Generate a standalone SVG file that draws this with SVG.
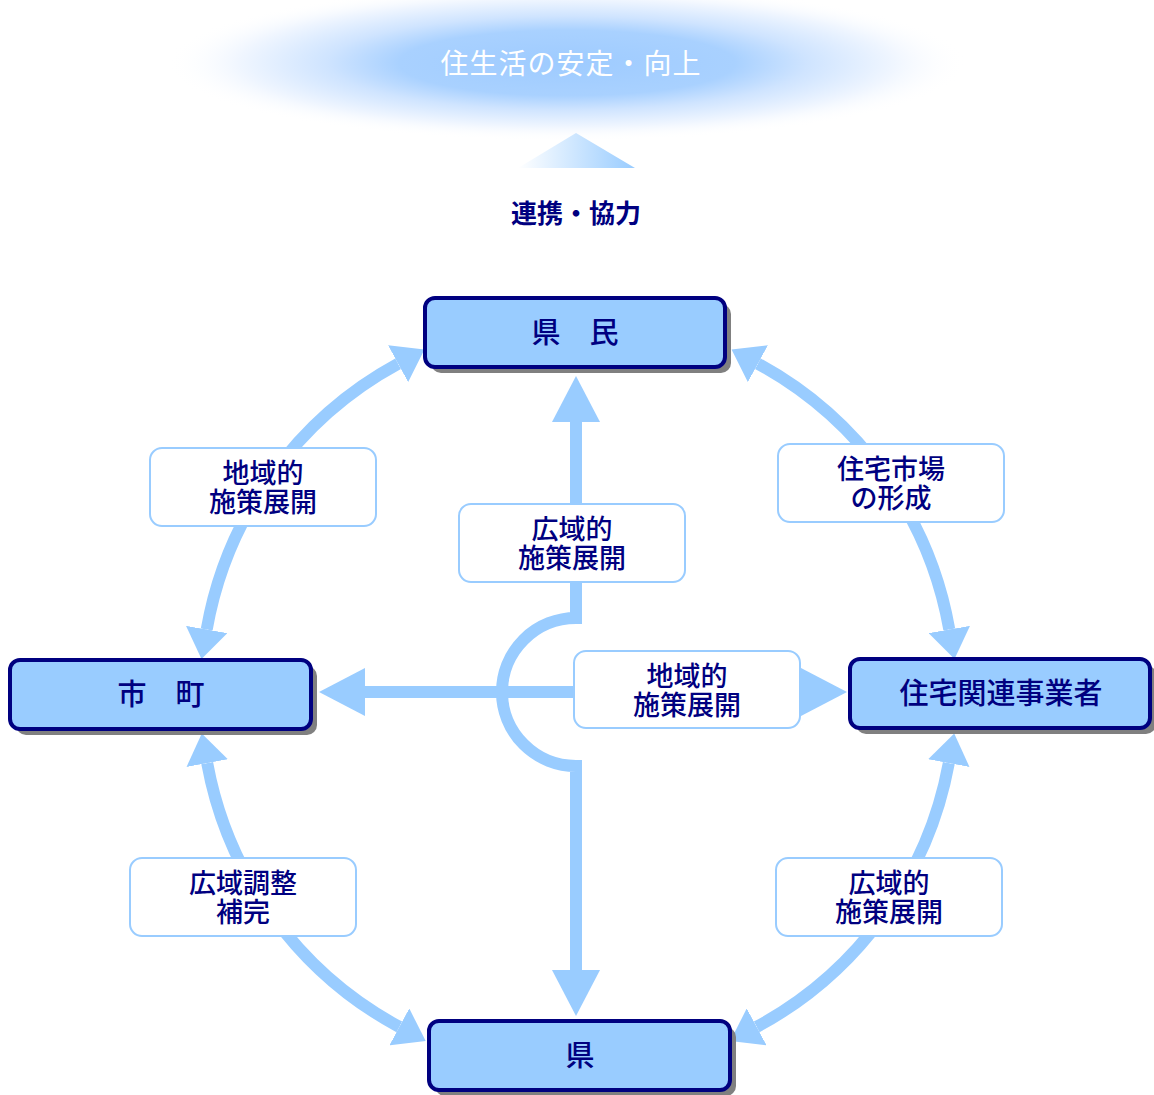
<svg xmlns="http://www.w3.org/2000/svg" width="1154" height="1095" viewBox="0 0 1154 1095">
<defs>
<radialGradient id="glow" cx="0.5" cy="0.5" r="0.5">
<stop offset="0" stop-color="#9ecbff"/>
<stop offset="0.42" stop-color="#a9d1ff"/>
<stop offset="0.6" stop-color="#cfe4ff"/>
<stop offset="0.82" stop-color="#f0f6ff"/>
<stop offset="1" stop-color="#ffffff" stop-opacity="0"/>
</radialGradient>
<linearGradient id="tri" x1="0" y1="0" x2="1" y2="0">
<stop offset="0" stop-color="#ffffff"/>
<stop offset="1" stop-color="#99ccff"/>
</linearGradient>
<marker id="arcHead" markerUnits="userSpaceOnUse" viewBox="0 0 30 42" markerWidth="30" markerHeight="42" refX="0" refY="21" orient="auto-start-reverse">
<path d="M0,0 L30,21 L0,42 z" fill="#99ccff"/>
</marker>
<marker id="lineHead" markerUnits="userSpaceOnUse" viewBox="0 0 46 48" markerWidth="46" markerHeight="48" refX="0" refY="24" orient="auto-start-reverse">
<path d="M0,0 L46,24 L0,48 z" fill="#99ccff"/>
</marker>
<style>
.conn{fill:none;stroke:#99ccff;stroke-width:12}
.arc{marker-start:url(#arcHead);marker-end:url(#arcHead)}
.shadow{fill:#808080}
.node{fill:#99ccff;stroke:#000080;stroke-width:4}
.ntext{font-family:'Noto Sans CJK JP','Noto Sans',sans-serif;font-size:29px;font-weight:500;fill:#000080;text-anchor:middle}
.lbox{fill:#ffffff;stroke:#99ccff;stroke-width:2}
.ltext{font-family:'Noto Sans CJK JP','Noto Sans',sans-serif;font-size:27px;font-weight:500;fill:#000080;text-anchor:middle}
</style>
</defs>
<rect width="1154" height="1095" fill="#ffffff"/>

<g id="goal">
<ellipse cx="567" cy="63" rx="400" ry="78" fill="url(#glow)"/>
<text x="571" y="74" font-family="'Noto Sans CJK JP','Noto Sans',sans-serif" font-size="28" letter-spacing="1" fill="#ffffff" text-anchor="middle">住生活の安定・向上</text>
</g>
<g id="rise">
<polygon points="518,168 576,133 635,168" fill="url(#tri)"/>
</g>
<g id="cooperation">
<text x="576" y="223" font-family="'Noto Sans CJK JP','Noto Sans',sans-serif" font-size="26" font-weight="700" fill="#000080" text-anchor="middle">連携・協力</text>
</g>

<g id="connectors">
<path class="conn arc" d="M206.7,629.5 A377,377 0 0 1 398.1,363.7"/>
<path class="conn arc" d="M757.9,363.7 A377,377 0 0 1 949.3,629.5"/>
<path class="conn arc" d="M948.8,763.1 A377,377 0 0 1 756.7,1026.9"/>
<path class="conn arc" d="M207.2,763.1 A377,377 0 0 0 399.3,1026.9"/>
<path class="conn" d="M576,504 V422" marker-end="url(#lineHead)"/>
<path class="conn" d="M576,582 V618 A74,74 0 0 0 576,766 V970" marker-end="url(#lineHead)"/>
<path class="conn" d="M574,692 H365" marker-end="url(#lineHead)"/>
<path class="conn" d="M800,692 H801" marker-end="url(#lineHead)"/>
</g>

<g id="node-kenmin">
<rect class="shadow" x="431" y="304" width="300" height="69" rx="10"/>
<rect class="node" x="425" y="298" width="300" height="69" rx="10"/>
<text class="ntext" x="575" y="343">県　民</text>
</g>
<g id="node-shicho">
<rect class="shadow" x="16" y="666" width="301" height="69" rx="10"/>
<rect class="node" x="10" y="660" width="301" height="69" rx="10"/>
<text class="ntext" x="161" y="705">市　町</text>
</g>
<g id="node-jigyosha">
<rect class="shadow" x="856" y="665" width="300" height="69" rx="10"/>
<rect class="node" x="850" y="659" width="300" height="69" rx="10"/>
<text class="ntext" x="1001" y="704">住宅関連事業者</text>
</g>
<g id="node-ken">
<rect class="shadow" x="435" y="1027" width="301" height="69" rx="10"/>
<rect class="node" x="429" y="1021" width="301" height="69" rx="10"/>
<text class="ntext" x="580" y="1066">県</text>
</g>

<g id="label-chiiki-left">
<rect class="lbox" x="150" y="448" width="226" height="78" rx="12"/>
<text class="ltext" x="263" y="483">地域的</text>
<text class="ltext" x="263" y="512">施策展開</text>
</g>
<g id="label-koiki-center">
<rect class="lbox" x="459" y="504" width="226" height="78" rx="12"/>
<text class="ltext" x="572" y="539">広域的</text>
<text class="ltext" x="572" y="568">施策展開</text>
</g>
<g id="label-shijo">
<rect class="lbox" x="778" y="444" width="226" height="78" rx="12"/>
<text class="ltext" x="891" y="479">住宅市場</text>
<text class="ltext" x="891" y="508">の形成</text>
</g>
<g id="label-chiiki-center">
<rect class="lbox" x="574" y="651" width="226" height="77" rx="12"/>
<text class="ltext" x="687" y="686">地域的</text>
<text class="ltext" x="687" y="715">施策展開</text>
</g>
<g id="label-chosei">
<rect class="lbox" x="130" y="858" width="226" height="78" rx="12"/>
<text class="ltext" x="243" y="893">広域調整</text>
<text class="ltext" x="243" y="922">補完</text>
</g>
<g id="label-koiki-right">
<rect class="lbox" x="776" y="858" width="226" height="78" rx="12"/>
<text class="ltext" x="889" y="893">広域的</text>
<text class="ltext" x="889" y="922">施策展開</text>
</g>
</svg>
